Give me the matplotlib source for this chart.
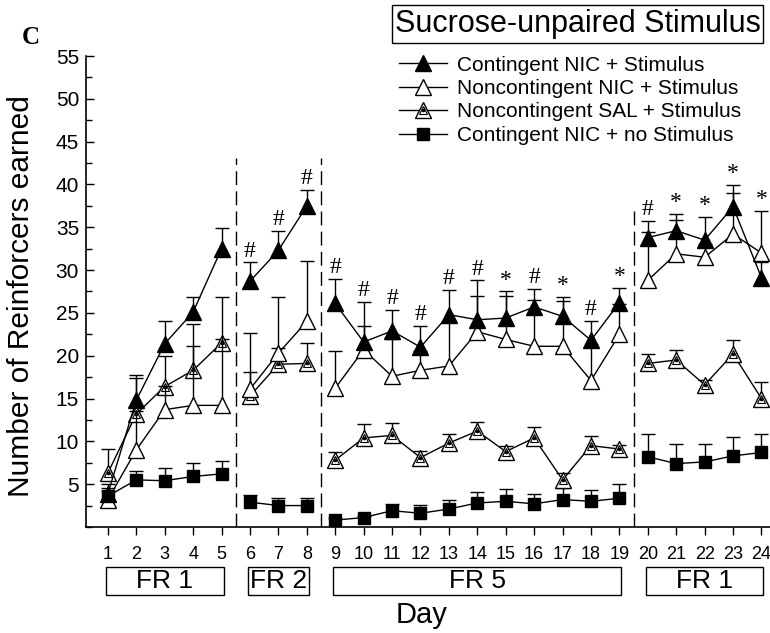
import numpy as np
import matplotlib.pyplot as plt
from matplotlib.lines import Line2D
from matplotlib.patches import Rectangle
from matplotlib.ticker import MultipleLocator

plt.rcParams['font.family'] = ['Liberation Sans', 'DejaVu Sans']

days = np.arange(1, 25)

# group means and upper error (mean + SEM), read per day
cn_stim = [3.9, 14.8, 21.4, 25.1, 32.5, 28.7, 32.3, 37.5, 26.1, 21.6, 22.9, 21.0,
           24.8, 24.2, 24.4, 25.7, 24.6, 21.8, 26.2, 33.8, 34.6, 33.5, 37.4, 29.1]
cn_stim_top = [5.0, 17.7, 24.0, 26.8, 34.9, 30.9, 34.6, 39.4, 29.0, 26.3, 25.3, 23.5,
               27.7, 28.8, 27.5, 27.8, 26.9, 24.1, 27.9, 35.7, 36.6, 36.2, 39.9, 31.0]

nc_stim = [3.2, 9.0, 13.7, 14.2, 14.2, 16.1, 20.3, 24.0, 16.2, 20.7, 17.6, 18.3,
           18.8, 22.8, 21.9, 21.1, 21.1, 17.1, 22.5, 28.8, 31.9, 31.5, 34.2, 32.0]
nc_stim_top = [4.2, 13.5, 16.5, 21.1, 26.8, 22.7, 26.8, 31.1, 20.6, 23.5, 22.0, 20.5,
               24.0, 27.0, 27.0, 26.5, 26.4, 21.0, 26.0, 34.4, 35.9, 33.0, 39.0, 36.9]

sal_stim = [6.3, 13.2, 16.4, 18.3, 21.5, 15.3, 19.0, 19.1, 7.8, 10.4, 10.7, 8.1,
            9.8, 11.2, 8.8, 10.4, 5.5, 9.5, 9.1, 19.1, 19.5, 16.6, 20.2, 15.0]
sal_stim_top = [9.1, 17.4, 20.0, 23.7, 22.0, 18.1, 20.9, 21.5, 8.8, 12.0, 12.2, 8.9,
                10.9, 12.3, 9.4, 11.7, 6.3, 10.6, 9.6, 20.2, 20.7, 17.2, 21.8, 16.9]

cn_nostim = [3.6, 5.5, 5.4, 5.9, 6.2, 2.9, 2.5, 2.5, 0.8, 1.1, 1.9, 1.6,
             2.1, 2.8, 3.0, 2.7, 3.2, 3.0, 3.35, 8.2, 7.4, 7.6, 8.3, 8.7]
cn_nostim_top = [4.6, 6.5, 6.9, 7.5, 7.7, 3.7, 3.35, 3.35, 1.0, 1.3, 2.7, 2.6,
                 3.2, 4.1, 4.4, 3.9, 4.6, 4.3, 5.0, 10.9, 9.7, 9.7, 10.5, 10.8]

# significance marks above each day (None = nothing drawn)
sig = [None, None, None, None, None, '#', '#', '#', '#', '#', '#', '#',
       '#', '#', '*', '#', '*', '#', '*', '#', '*', '*', '*', '*']

# schedule blocks: (first day, last day, label)
phases = [(1, 5, 'FR 1'), (6, 8, 'FR 2'), (9, 19, 'FR 5'), (20, 24, 'FR 1')]
breaks = [5.5, 8.5, 19.5]
break_tops = [43.1, 43.1, 37.4]

fig = plt.figure(figsize=(7.7, 6.33), dpi=100)
ax = fig.add_axes([0.1117, 0.1675, 0.8883, 0.744])

tri_open = dict(marker='^', ms=11, mfc='white', mec='k', mew=1.0)
tri_fill = dict(marker='^', ms=11, mfc='k', mec='k', mew=1.0)
sq_fill = dict(marker='s', ms=9, mfc='k', mec='k', mew=1.0)


def draw_series(y, top, style, z, inner=False):
    y = np.asarray(y)
    top = np.asarray(top)
    eb = ax.errorbar(days, y, yerr=[np.zeros_like(y), top - y], fmt='none',
                     ecolor='k', elinewidth=1.0, capsize=4.8, capthick=1.0, zorder=z)
    eb[1][0].set_visible(False)
    for a, b, _ in phases:
        m = (days >= a) & (days <= b)
        ax.plot(days[m], y[m], color='k', lw=1.0, zorder=z + 0.5, **style)
        if inner:
            ax.plot(days[m], y[m], ls='none', marker='^', ms=6, mfc='white',
                    mec='k', mew=0.8, zorder=z + 0.6)
            ax.plot(days[m], y[m], ls='none', marker='o', ms=1.6, mfc='k',
                    mec='k', zorder=z + 0.7)


draw_series(cn_nostim, cn_nostim_top, sq_fill, 2)
draw_series(sal_stim, sal_stim_top, tri_open, 3, inner=True)
draw_series(nc_stim, nc_stim_top, tri_open, 4)
draw_series(cn_stim, cn_stim_top, tri_fill, 5)

# significance symbols above the highest bar of each day
for d, s, a, b, c in zip(days, sig, cn_stim_top, nc_stim_top, sal_stim_top):
    if s is None:
        continue
    ax.text(d, max(a, b, c) + 0.1, s, ha='center', va='bottom', fontsize=17,
            family=['Liberation Serif', 'DejaVu Serif'])

for xb, yt in zip(breaks, break_tops):
    ax.plot([xb, xb], [0, yt], color='k', lw=1.0, ls=(0, (10, 4.5)), zorder=1)

ax.set_xlim(0.23, 24.3)
ax.set_ylim(0, 55)
ax.set_xticks(days)
ax.set_yticks(np.arange(5, 56, 5))
ax.yaxis.set_minor_locator(MultipleLocator(2.5))
ax.tick_params(axis='x', direction='out', length=6, width=1, labelsize=13, pad=8)
ax.tick_params(axis='y', which='major', direction='in', length=6, width=1, labelsize=15, pad=5)
ax.tick_params(axis='y', which='minor', direction='in', length=4, width=1)
for side in ['top', 'right']:
    ax.spines[side].set_visible(False)
for side in ['left', 'bottom']:
    ax.spines[side].set_linewidth(1.2)

ax.set_ylabel('Number of Reinforcers earned', fontsize=21.5)
ax.yaxis.set_label_coords(-0.074, 0.49)
ax.set_xlabel('Day', fontsize=21)
ax.xaxis.set_label_coords(0.49, -0.158)

# schedule boxes under the day numbers
trans = ax.get_xaxis_transform()
for a, b, lab in phases:
    x0, x1 = a - 0.07, b + 0.07
    ax.add_patch(Rectangle((x0, -0.144), x1 - x0, 0.059, transform=trans,
                           fill=False, lw=1.0, ec='k', clip_on=False))
    ax.text((x0 + x1) / 2, -0.1145, lab, transform=trans, ha='center',
            va='center', fontsize=19)

# legend
h_cn = Line2D([], [], color='k', lw=1.0, **tri_fill)
h_nc = Line2D([], [], color='k', lw=1.0, **tri_open)
h_sal = (Line2D([], [], color='k', lw=1.0, **tri_open),
         Line2D([], [], ls='none', marker='^', ms=6, mfc='white', mec='k', mew=0.8),
         Line2D([], [], ls='none', marker='o', ms=1.6, mfc='k', mec='k'))
h_sq = Line2D([], [], color='k', lw=1.0, **sq_fill)
fig.legend([h_cn, h_nc, h_sal, h_sq],
           ['Contingent NIC + Stimulus', 'Noncontingent NIC + Stimulus',
            'Noncontingent SAL + Stimulus', 'Contingent NIC + no Stimulus'],
           loc='upper left', bbox_to_anchor=(0.518, 0.912), frameon=False,
           fontsize=15, handlelength=2.3, handletextpad=0.5, labelspacing=0.21,
           borderpad=0, borderaxespad=0)

fig.add_artist(Rectangle((392 / 770, 1 - 43 / 633), 371 / 770, 38 / 633,
                         transform=fig.transFigure, fill=False, lw=1.0, ec='k'))
fig.text(578 / 770, 1 - 24 / 633, 'Sucrose-unpaired Stimulus', ha='center',
         va='center', fontsize=22)

fig.text(31 / 770, 1 - 37 / 633, 'C', ha='center', va='center', fontsize=18,
         fontweight='bold', family=['Liberation Serif', 'DejaVu Serif'])

fig.savefig('out.png', dpi=100)
